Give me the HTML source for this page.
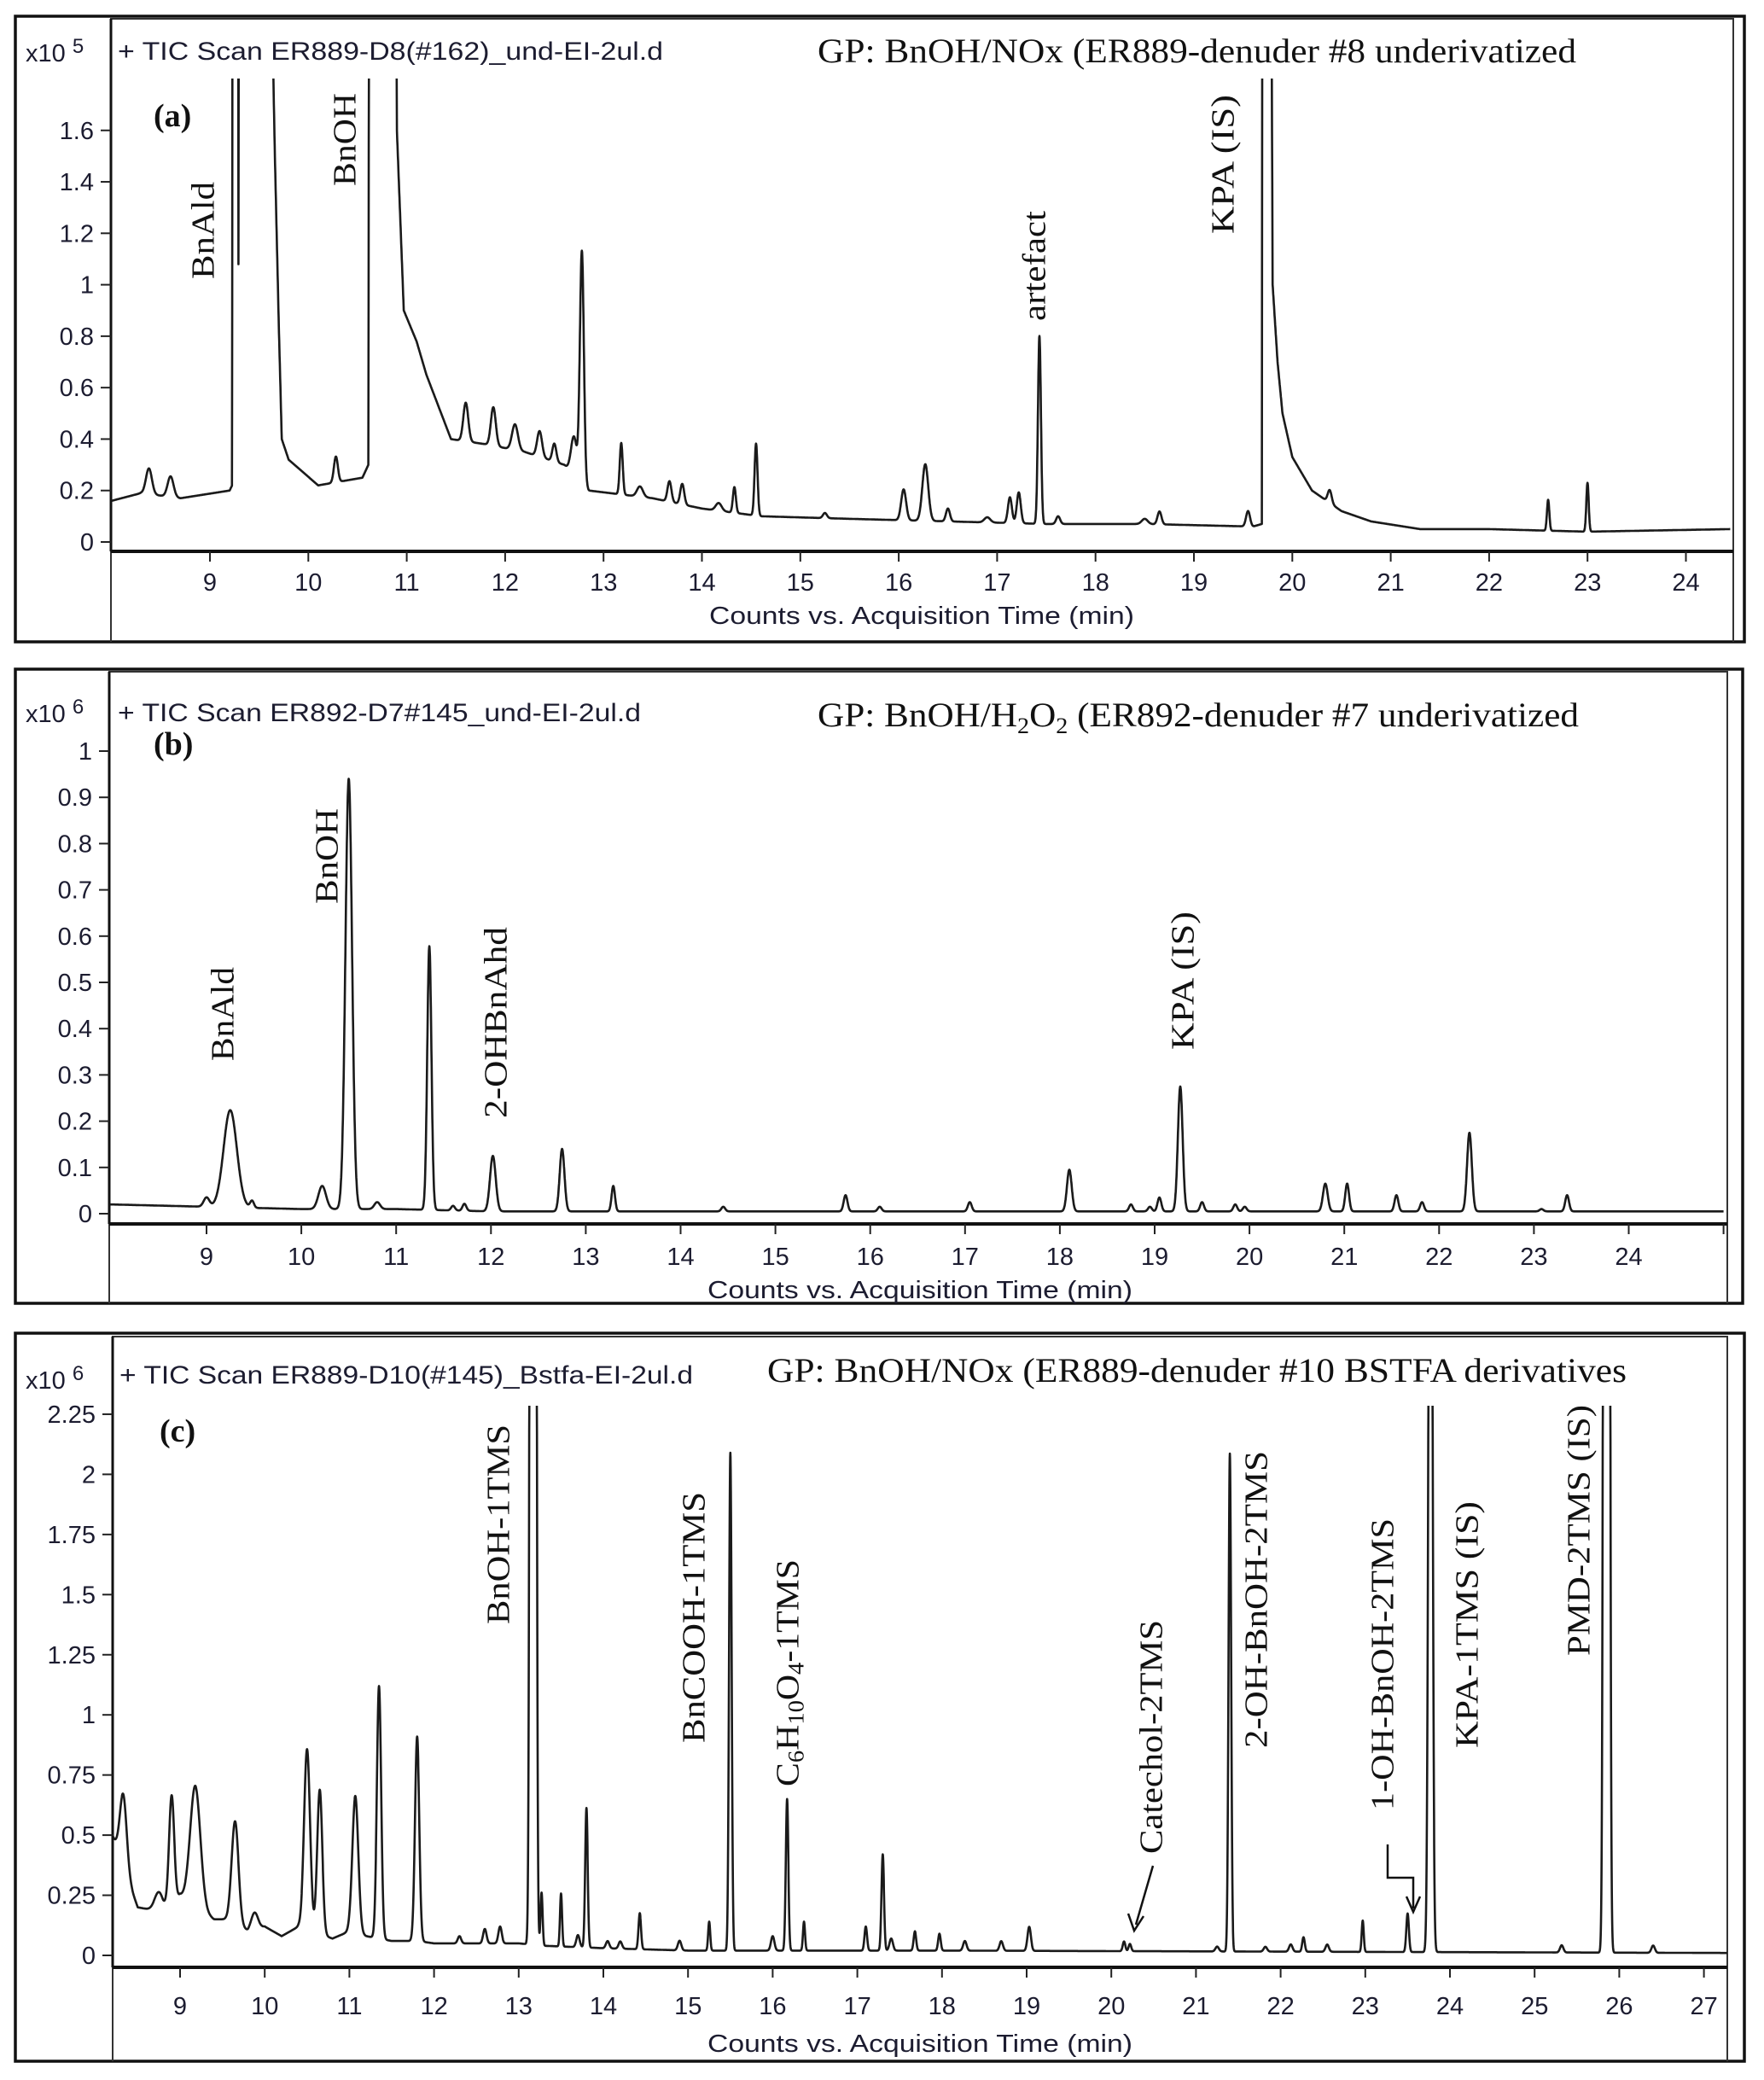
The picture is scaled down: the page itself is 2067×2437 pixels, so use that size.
<!DOCTYPE html>
<html><head><meta charset="utf-8"><style>
html,body{margin:0;padding:0;background:#fff;}
svg{display:block;}
</style></head><body>
<svg id="fig" width="2067" height="2437" viewBox="0 0 2067 2437" xmlns="http://www.w3.org/2000/svg"></svg>
<script>
// ---------- Panel (a) data (x10^5 counts) ----------
const aBaseT = [8.0,8.3,8.7,9.2,9.225,9.232,9.285,9.29,9.295,9.615,9.625,9.66,9.7,9.73,9.8,10.1,10.55,10.61,10.625,10.88,10.9,10.94,10.97,11.1,11.2,11.3,11.45,11.8,12.2,12.6,12.85,13.5,14.0,14.6,15.5,16.5,17.5,18.5,19.6,19.69,19.7,19.76,19.8,19.85,19.9,20.0,20.2,20.5,20.8,21.3,22.0,23.0,24.45];
const aBaseV = [0.16,0.19,0.17,0.2,0.22,5,5,1.08,5,5,2.2,1.5,0.84,0.4,0.32,0.22,0.25,0.3,5,5,1.6,1.2,0.9,0.78,0.65,0.55,0.4,0.38,0.35,0.3,0.2,0.17,0.13,0.1,0.09,0.08,0.07,0.07,0.06,0.07,5,5,1.0,0.7,0.5,0.33,0.2,0.12,0.08,0.05,0.05,0.04,0.05];
const aPeakT = [8.38,8.6,10.28,11.6,11.88,12.1,12.35,12.5,12.7,12.78,13.18,13.37,13.67,13.8,14.17,14.33,14.55,15.25,16.05,16.27,16.5,16.9,17.13,17.22,17.43,17.62,18.5,18.65,19.55,20.38,22.6,23.0];
const aPeakH = [0.1,0.08,0.1,0.15,0.15,0.1,0.1,0.07,0.15,0.9,0.2,0.04,0.08,0.08,0.03,0.1,0.28,0.02,0.12,0.22,0.05,0.02,0.1,0.12,0.73,0.03,0.02,0.05,0.06,0.05,0.12,0.19];
const aPeakW = [0.03,0.03,0.02,0.025,0.025,0.03,0.025,0.02,0.03,0.02,0.015,0.03,0.02,0.02,0.03,0.015,0.015,0.02,0.025,0.03,0.02,0.03,0.02,0.02,0.015,0.02,0.03,0.02,0.02,0.02,0.012,0.012];
const aYTicks = [0,0.2,0.4,0.6,0.8,1,1.2,1.4,1.6];
const aXTicks = [9,10,11,12,13,14,15,16,17,18,19,20,21,22,23,24];

// ---------- Panel (b) data (x10^6 counts) ----------
const bBaseT = [8.0,9.0,10.0,11.0,12.0,25.0];
const bBaseV = [0.02,0.015,0.01,0.01,0.005,0.005];
const bPeakT = [9.0,9.25,9.48,10.22,10.5,10.8,11.35,11.6,11.72,12.02,12.75,13.29,14.45,15.74,16.1,17.05,18.1,18.75,18.95,19.05,19.27,19.5,19.85,19.95,20.8,21.03,21.55,21.82,22.32,23.08,23.35];
const bPeakH = [0.02,0.21,0.015,0.05,0.93,0.015,0.57,0.01,0.015,0.12,0.135,0.055,0.01,0.035,0.01,0.02,0.09,0.015,0.01,0.03,0.27,0.02,0.015,0.01,0.06,0.06,0.035,0.02,0.17,0.005,0.035];
const bPeakW = [0.03,0.07,0.02,0.04,0.035,0.03,0.022,0.02,0.02,0.03,0.025,0.018,0.02,0.02,0.02,0.02,0.025,0.02,0.02,0.02,0.025,0.02,0.02,0.02,0.025,0.02,0.02,0.02,0.025,0.02,0.02];
const bYTicks = [0,0.1,0.2,0.3,0.4,0.5,0.6,0.7,0.8,0.9,1];
const bXTicks = [9,10,11,12,13,14,15,16,17,18,19,20,21,22,23,24];

// ---------- Panel (c) data (x10^6 counts) ----------
const cBaseT = [8.2,8.35,8.5,8.8,9.0,9.4,9.6,9.8,10.0,10.2,10.4,10.8,11.0,11.2,11.5,11.8,12.0,13.0,13.3,14.0,15.0,16.0,17.0,18.0,27.3];
const cBaseV = [0.5,0.35,0.2,0.18,0.25,0.15,0.15,0.1,0.12,0.08,0.12,0.07,0.1,0.08,0.06,0.06,0.05,0.05,0.04,0.03,0.02,0.02,0.02,0.02,0.01];
const cPeakT = [8.33,8.75,8.9,9.18,9.65,9.88,10.5,10.65,11.07,11.35,11.8,12.3,12.6,12.78,13.17,13.27,13.5,13.7,13.8,14.05,14.2,14.43,14.9,15.25,15.5,16.0,16.17,16.37,17.1,17.3,17.4,17.68,17.97,18.27,18.7,19.03,20.15,20.22,21.25,21.4,21.82,22.12,22.27,22.55,22.97,23.5,23.77,25.32,25.85,26.4];
const cPeakH = [0.3,0.08,0.45,0.5,0.42,0.07,0.75,0.6,0.57,1.05,0.85,0.03,0.06,0.07,30,0.22,0.22,0.05,0.58,0.03,0.03,0.15,0.04,0.12,2.07,0.06,0.63,0.12,0.1,0.4,0.05,0.08,0.07,0.04,0.04,0.1,0.04,0.03,0.02,2.07,0.02,0.03,0.06,0.03,0.13,0.16,5,0.03,30,0.03];
const cPeakW = [0.04,0.05,0.03,0.06,0.04,0.04,0.035,0.03,0.035,0.025,0.025,0.02,0.02,0.02,0.02,0.012,0.012,0.02,0.015,0.02,0.02,0.015,0.02,0.012,0.015,0.02,0.015,0.012,0.015,0.015,0.02,0.015,0.015,0.02,0.02,0.02,0.015,0.015,0.02,0.015,0.02,0.02,0.015,0.02,0.012,0.015,0.02,0.02,0.02,0.02];
const cYTicks = [0,0.25,0.5,0.75,1,1.25,1.5,1.75,2,2.25];
const cYTickLabels = ['0','0.25','0.5','0.75','1','1.25','1.5','1.75','2','2.25'];
const cXTicks = [9,10,11,12,13,14,15,16,17,18,19,20,21,22,23,24,25,26,27];

const NS = 'http://www.w3.org/2000/svg';
const svg = document.getElementById('fig');
function mk(tag, attrs, parent, txt){
  const e = document.createElementNS(NS, tag);
  for (const k in attrs) e.setAttribute(k, attrs[k]);
  if (txt !== undefined) e.textContent = txt;
  (parent||svg).appendChild(e);
  return e;
}
function baseAt(T,V,t){
  if (t<=T[0]) return V[0];
  for (let i=1;i<T.length;i++){ if (t<=T[i]) { const f=(t-T[i-1])/(T[i]-T[i-1]); return V[i-1]+f*(V[i]-V[i-1]); } }
  return V[V.length-1];
}
function signal(P, t){
  let s = baseAt(P.bt,P.bv,t);
  for (let i=0;i<P.pt.length;i++){ const d=(t-P.pt[i])/P.pw[i]; if (Math.abs(d)<6) s += P.ph[i]*Math.exp(-0.5*d*d); }
  return s;
}
function rotLabel(g, name, cx, bottom, top, fs, html){
  const x = cx + fs*0.36;
  const t = mk('text',{x:x,y:bottom,transform:`rotate(-90 ${x} ${bottom})`,'font-family':'"Liberation Serif",serif','font-size':fs,fill:'#111',textLength:(bottom-top),lengthAdjust:'spacingAndGlyphs'},g);
  t.innerHTML = html;
  
  
  return t;
}

function panel(P){
  const g = mk('g',{});
  
  
  const xs = t => P.x0 + (t - P.t0)*P.px;
  const ys = v => P.y0 - v*P.py;
  const of = mk('rect',{x:P.ox1,y:P.oy1,width:P.ox2-P.ox1,height:P.oy2-P.oy1,fill:'none',stroke:'#111','stroke-width':3.5},g);
   
  const ib = mk('path',{d:`M${P.ix1},${P.oy2} V${P.iy1} H${P.ix2} V${P.oy2}`,fill:'none',stroke:'#333','stroke-width':2},g);
   
  const xa = mk('line',{x1:P.ix1,y1:P.axY,x2:P.ix2,y2:P.axY,stroke:'#111','stroke-width':4},g);
   
  const ya = mk('line',{x1:P.ix1,y1:P.iy1,x2:P.ix1,y2:P.axY,stroke:'#111','stroke-width':3},g);
   
  P.yt.forEach((v,i)=>{
    const y = ys(v);
    const tk = mk('line',{x1:P.ix1-12,y1:y,x2:P.ix1,y2:y,stroke:'#222','stroke-width':2},g);
     
    const lb = mk('text',{x:P.ix1-20,y:y+10,'text-anchor':'end','font-family':'"Liberation Sans",sans-serif','font-size':29,fill:'#1c1c30'},g,(P.ytl?P.ytl[i]:String(v)));
     
  });
  P.xt.forEach(t=>{
    const x = xs(t);
    const tk = mk('line',{x1:x,y1:P.axY,x2:x,y2:P.axY+12,stroke:'#222','stroke-width':2},g);
     
    const lb = mk('text',{x:x,y:P.xlY,'text-anchor':'middle','font-family':'"Liberation Sans",sans-serif','font-size':29,fill:'#1c1c30'},g,String(t));
     
  });
  if (P.extraTick){ const x=xs(P.extraTick); const tk=mk('line',{x1:x,y1:P.axY,x2:x,y2:P.axY+12,stroke:'#222','stroke-width':2},g);   }
  const xt = mk('text',{x:P.cntX,y:P.cntY,'text-anchor':'middle','font-family':'"Liberation Sans",sans-serif','font-size':29,fill:'#1c1c30',textLength:498,lengthAdjust:'spacingAndGlyphs'},g,'Counts vs. Acquisition Time (min)');
   
  const ex = mk('text',{x:30,y:P.expY,'font-family':'"Liberation Sans",sans-serif','font-size':29,fill:'#1c1c30'},g);
  ex.innerHTML = `x10 <tspan dy="-10" font-size="24">${P.exp}</tspan>`;
   
  const hd = mk('text',{x:P.hdX,y:P.hdY,'font-family':'"Liberation Sans",sans-serif','font-size':30,fill:'#1c1c30',textLength:P.hdW,lengthAdjust:'spacingAndGlyphs'},g,P.header);
   
  const gp = mk('text',{x:P.gpX,y:P.gpY,'font-family':'"Liberation Serif",serif','font-size':40,fill:'#111',textLength:P.gpW,lengthAdjust:'spacingAndGlyphs'},g);
  gp.innerHTML = P.gp;
   
  const pl = mk('text',{x:P.plX,y:P.plY,'font-family':'"Liberation Serif",serif','font-size':38,'font-weight':'bold',fill:'#111'},g,P.letter);
   
  const cid = 'clip'+P.letter.replace(/\W/g,'');
  const cp = mk('clipPath',{id:cid},g);
  mk('rect',{x:P.ix1,y:P.clipTop,width:P.ix2-P.ix1,height:P.axY-P.clipTop},cp);
  let d='';
  const n = Math.round((P.tEnd-P.tStart)/0.002);
  for (let k=0; k<=n; k++){
    const t = P.tStart + k*0.002;
    const v = signal(P,t);
    d += (d?'L':'M') + xs(t).toFixed(1)+','+Math.max(ys(v),P.clipTop-5).toFixed(1);
  }
  const tr = mk('path',{d:d,fill:'none',stroke:'#1a1a1a','stroke-width':2.6,'stroke-linejoin':'round','clip-path':`url(#${cid})`},g);
   
  P.labels.forEach(L=>rotLabel(g,L[0],L[1],L[2],L[3],L[4],L[5]));
  return g;
}

panel({name:'panel-a',letter:'(a)',bt:aBaseT,bv:aBaseV,pt:aPeakT,ph:aPeakH,pw:aPeakW,yt:aYTicks,xt:aXTicks,
  t0:9,x0:246,px:115.3,y0:635,py:301.4,tStart:8.0,tEnd:24.45,
  ox1:18,oy1:19,ox2:2044,oy2:752,ix1:130,iy1:22,ix2:2031,axY:646,clipTop:92,
  xlY:692,cntX:1080,cntY:731,exp:'5',expY:72,
  header:'+ TIC Scan ER889-D8(#162)_und-EI-2ul.d',hdX:138,hdY:70,hdW:639,
  gp:'GP: BnOH/NOx (ER889-denuder #8 underivatized',gpX:958,gpY:73,gpW:889,plX:180,plY:148,
  labels:[['label-bnald',237,327,213,38,'BnAld'],['label-bnoh',403,218,109,38,'BnOH'],['label-artefact',1211,376,247,38,'artefact'],['label-kpa-is',1432,274,111,38,'KPA (IS)']]});

panel({name:'panel-b',letter:'(b)',bt:bBaseT,bv:bBaseV,pt:bPeakT,ph:bPeakH,pw:bPeakW,yt:bYTicks,xt:bXTicks,
  t0:9,x0:242,px:111.1,y0:1422,py:542,tStart:7.98,tEnd:25.0,
  ox1:18,oy1:784,ox2:2042,oy2:1527,ix1:128,iy1:787,ix2:2024,axY:1434,clipTop:787,extraTick:25,
  xlY:1482,cntX:1078,cntY:1521,exp:'6',expY:846,
  header:'+ TIC Scan ER892-D7#145_und-EI-2ul.d',hdX:138,hdY:845,hdW:613,
  gp:'GP: BnOH/H<tspan font-size="26" dy="8">2</tspan><tspan dy="-8">O</tspan><tspan font-size="26" dy="8">2</tspan><tspan dy="-8"> (ER892-denuder #7 underivatized</tspan>',gpX:958,gpY:851,gpW:892,plX:180,plY:884,
  labels:[['label-bnald',260,1243,1133,38,'BnAld'],['label-bnoh',382,1059,947,38,'BnOH'],['label-2-ohbnahd',580,1310,1086,38,'2-OHBnAhd'],['label-kpa-is',1385,1230,1068,38,'KPA (IS)']]});

panel({name:'panel-c',letter:'(c)',bt:cBaseT,bv:cBaseV,pt:cPeakT,ph:cPeakH,pw:cPeakW,yt:cYTicks,ytl:cYTickLabels,xt:cXTicks,
  t0:9,x0:211,px:99.2,y0:2291,py:281.8,tStart:8.2,tEnd:27.28,
  ox1:18,oy1:1562,ox2:2044,oy2:2415,ix1:132,iy1:1566,ix2:2024,axY:2305,clipTop:1647,
  xlY:2360,cntX:1078,cntY:2404,exp:'6',expY:1627,
  header:'+ TIC Scan ER889-D10(#145)_Bstfa-EI-2ul.d',hdX:140,hdY:1621,hdW:672,
  gp:'GP: BnOH/NOx (ER889-denuder #10 BSTFA derivatives',gpX:899,gpY:1619,gpW:1007,plX:187,plY:1689,
  labels:[['label-bnoh-1tms',583,1903,1669,38,'BnOH-1TMS'],['label-bncooh-1tms',812,2042,1748,38,'BnCOOH-1TMS'],
    ['label-c6h10o4-1tms',922,2093,1827,38,'C<tspan font-size="26" dy="6">6</tspan><tspan dy="-6">H</tspan><tspan font-size="26" dy="6">10</tspan><tspan dy="-6">O</tspan><tspan font-size="26" dy="6">4</tspan><tspan dy="-6">-1TMS</tspan>'],
    ['label-catechol-2tms',1348,2172,1898,38,'Catechol-2TMS'],['label-2-oh-bnoh-2tms',1471,2048,1700,38,'2-OH-BnOH-2TMS'],
    ['label-1-oh-bnoh-2tms',1619,2121,1779,38,'1-OH-BnOH-2TMS'],['label-kpa-1tms-is',1718,2048,1759,38,'KPA-1TMS (IS)'],['label-pmd-2tms-is',1849,1940,1646,38,'PMD-2TMS (IS)']]});

const a1 = mk('path',{d:'M1351,2186 L1331,2255 M1322,2242 L1329,2262 L1340,2245',fill:'none',stroke:'#111','stroke-width':2.5});
 
const a2 = mk('path',{d:'M1626,2161 V2200 H1656 V2236 M1648,2222 L1656,2240 L1664,2222',fill:'none',stroke:'#111','stroke-width':2.5});
 
</script>
</body></html>
